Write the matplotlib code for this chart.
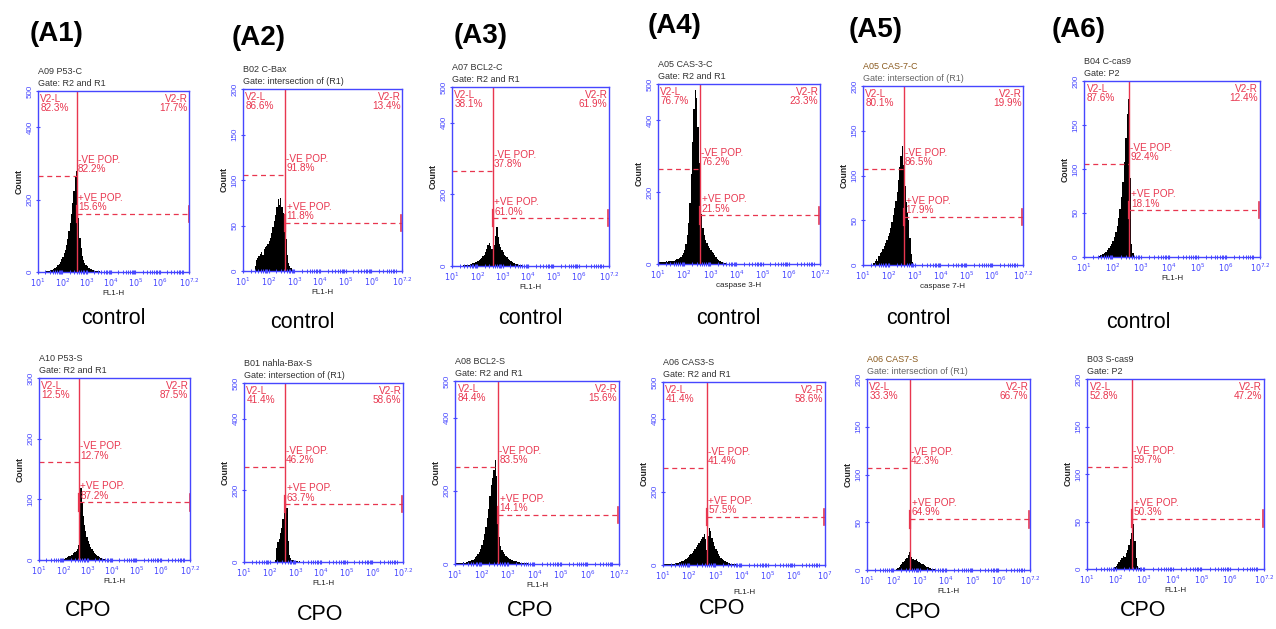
import numpy as np
import matplotlib
matplotlib.use('Agg')
import matplotlib.pyplot as plt

plt.rcParams['font.family'] = ['Liberation Sans', 'DejaVu Sans']

# ---------------- data ----------------
panel_tags = ['(A1)', '(A2)', '(A3)', '(A4)', '(A5)', '(A6)']
bin_width = 0.05  # decades per histogram bin

# control row (log10 start of first bin, counts per bin)
p53_c_start = 1.30
p53_c_counts = [2, 3, 3, 4, 5, 6, 8, 10, 12, 15, 18, 22, 28, 35, 42, 52, 62, 75, 92, 112,
                135, 160, 190, 225, 262, 280, 205, 150, 95, 65, 45, 32, 25, 20, 16, 12, 10,
                8, 6, 5, 4, 3, 3, 2, 2, 1, 1]
bax_c_start = 1.45
bax_c_counts = [6, 12, 14, 17, 19, 21, 18, 24, 26, 28, 30, 33, 36, 42, 48, 55, 62, 70, 79,
                72, 80, 70, 64, 52, 35, 18, 9, 5, 3, 1]
bcl2_c_start = 1.40
bcl2_c_counts = [1, 2, 2, 3, 3, 4, 5, 6, 7, 8, 10, 12, 14, 16, 19, 22, 27, 32, 38, 48, 58,
                 65, 55, 48, 30, 60, 85, 108, 80, 62, 52, 45, 38, 32, 28, 24, 20, 17, 14, 11,
                 9, 7, 6, 5, 4, 3, 2, 1]
cas3_c_start = 1.00
cas3_c_counts = [4, 5, 5, 6, 5, 6, 7, 6, 7, 8, 7, 8, 9, 11, 13, 15, 17, 20, 25, 30, 38, 55,
                 80, 115, 170, 250, 340, 430, 484, 460, 380, 280, 190, 140, 100, 80, 68, 58,
                 50, 44, 38, 34, 30, 24, 19, 14, 11, 8, 6, 5, 4, 3, 2]
cas7_c_start = 1.40
cas7_c_counts = [2, 4, 7, 5, 10, 13, 15, 18, 21, 25, 28, 32, 36, 41, 48, 56, 64, 72, 82, 95,
                 110, 122, 133, 112, 88, 70, 58, 50, 30, 12, 3]
cas9_c_start = 1.50
cas9_c_counts = [1, 2, 2, 3, 4, 6, 8, 10, 12, 15, 18, 23, 28, 35, 44, 55, 68, 85, 108, 135,
                 162, 180, 90, 15, 4, 1]

# CPO row
p53_s_start = 1.90
p53_s_counts = [1, 2, 2, 3, 4, 5, 6, 7, 8, 9, 11, 13, 15, 18, 25, 40, 118, 95, 72, 58, 47,
                38, 32, 27, 22, 18, 15, 12, 10, 8, 6, 5, 4, 3, 2, 2, 1]
bax_s_start = 2.20
bax_s_counts = [5, 40, 55, 65, 80, 95, 120, 145, 190, 150, 60, 20, 10, 6, 5, 3, 2, 2, 1, 2,
                1, 1]
bcl2_s_start = 1.00
bcl2_s_counts = [3, 3, 4, 3, 4, 4, 5, 4, 5, 6, 7, 8, 10, 12, 15, 18, 23, 28, 34, 42, 52, 65,
                 82, 100, 125, 150, 185, 215, 235, 258, 285, 240, 140, 75, 48, 38, 32, 26,
                 22, 19, 16, 14, 12, 10, 9, 8, 7, 6, 5, 4, 4, 3, 3, 2, 2, 1]
cas3_s_start = 1.00
cas3_s_counts = [2, 2, 2, 3, 2, 3, 3, 4, 4, 5, 5, 6, 7, 8, 10, 12, 14, 17, 20, 23, 26, 30,
                 34, 38, 43, 49, 55, 60, 65, 70, 76, 85, 70, 40, 80, 100, 92, 75, 62, 52, 44,
                 37, 30, 25, 20, 16, 13, 10, 8, 7, 5, 4, 3, 3, 2, 2, 1]
cas7_s_start = 2.10
cas7_s_counts = [1, 2, 3, 5, 6, 8, 9, 11, 13, 16, 19, 14, 11, 12, 10, 11, 9, 8, 7, 6, 6, 5,
                 4, 3, 3, 2, 2, 1, 1, 1]
cas9_s_start = 1.90
cas9_s_counts = [1, 2, 3, 5, 7, 9, 12, 14, 13, 17, 20, 25, 32, 38, 47, 30, 12, 3, 1]

hist_starts = [p53_c_start, bax_c_start, bcl2_c_start, cas3_c_start, cas7_c_start, cas9_c_start,
               p53_s_start, bax_s_start, bcl2_s_start, cas3_s_start, cas7_s_start, cas9_s_start]
hist_counts = [p53_c_counts, bax_c_counts, bcl2_c_counts, cas3_c_counts, cas7_c_counts, cas9_c_counts,
               p53_s_counts, bax_s_counts, bcl2_s_counts, cas3_s_counts, cas7_s_counts, cas9_s_counts]

sample_names = ['A09 P53-C', 'B02 C-Bax', 'A07 BCL2-C', 'A05 CAS-3-C', 'A05 CAS-7-C', 'B04 C-cas9',
                'A10 P53-S', 'B01 nahla-Bax-S', 'A08 BCL2-S', 'A06 CAS3-S', 'A06 CAS7-S', 'B03 S-cas9']
gate_names = ['Gate: R2 and R1', 'Gate: intersection of (R1)', 'Gate: R2 and R1', 'Gate: R2 and R1',
              'Gate: intersection of (R1)', 'Gate: P2',
              'Gate: R2 and R1', 'Gate: intersection of (R1)', 'Gate: R2 and R1', 'Gate: R2 and R1',
              'Gate: intersection of (R1)', 'Gate: P2']
v2l_pct = ['82.3%', '86.6%', '38.1%', '76.7%', '80.1%', '87.6%',
           '12.5%', '41.4%', '84.4%', '41.4%', '33.3%', '52.8%']
v2r_pct = ['17.7%', '13.4%', '61.9%', '23.3%', '19.9%', '12.4%',
           '87.5%', '58.6%', '15.6%', '58.6%', '66.7%', '47.2%']
neg_pct = ['82.2%', '91.8%', '37.8%', '76.2%', '86.5%', '92.4%',
           '12.7%', '46.2%', '83.5%', '41.4%', '42.3%', '59.7%']
pos_pct = ['15.6%', '11.8%', '61.0%', '21.5%', '17.9%', '18.1%',
           '87.2%', '63.7%', '14.1%', '57.5%', '64.9%', '50.3%']
gate_x = [2.60, 2.64, 2.61, 2.61, 2.59, 2.59, 2.64, 2.60, 2.63, 2.68, 2.64, 2.58]
neg_level = [265, 106, 266, 265, 107, 106, 161, 265, 265, 266, 107, 107]
pos_level = [160, 53, 133, 135, 54, 53, 95, 161, 134, 131, 53, 53]
y_max = [500, 200, 500, 500, 200, 200, 300, 500, 500, 500, 200, 200]
x_names = ['FL1-H', 'FL1-H', 'FL1-H', 'caspase 3-H', 'caspase 7-H', 'FL1-H',
           'FL1-H', 'FL1-H', 'FL1-H', 'FL1-H', 'FL1-H', 'FL1-H']
last_x_label = ['7.2'] * 9 + ['7'] + ['7.2'] * 2
captions = ['control'] * 6 + ['CPO'] * 6

# ---------------- layout (pixels) ----------------
W, H = 1276, 629
boxes = [(38, 189, 91, 272), (243, 402, 89, 271), (452, 609, 87, 266),
         (658, 820, 84, 264), (863, 1023, 86, 265), (1084, 1260, 81, 257),
         (39, 190, 378, 560), (244, 403, 383, 562), (455, 619, 381, 564),
         (663, 825, 382, 565), (867, 1030, 379, 570), (1087, 1264, 379, 569)]
tag_pos = [(57, 34), (259, 38), (481, 36), (675, 26), (876, 30), (1079, 30)]
caption_pos = [(113, 318), (302, 322), (530, 318), (728, 318), (918, 318), (1138, 323),
               (88, 610), (320, 614), (530, 610), (722, 608), (918, 612), (1143, 610)]
xlabel_pad = [1, 1, 1, 1, 1, 1, 1, 1, 1, 5, 1, 1]

RED = '#e8364f'
BLUE = '#4646ff'

fig = plt.figure(figsize=(W / 100, H / 100), dpi=100)
fig.patch.set_facecolor('white')

major_x = [1, 2, 3, 4, 5, 6]
minor_x = [d + np.log10(k) for d in range(1, 8) for k in range(2, 10) if d + np.log10(k) < 7.2]

for i in range(12):
    x0, x1, y0, y1 = boxes[i]
    ax = fig.add_axes([x0 / W, 1 - y1 / H, (x1 - x0) / W, (y1 - y0) / H])
    ym = y_max[i]
    counts = np.array(hist_counts[i], dtype=float)
    edges = hist_starts[i] + bin_width * np.arange(len(counts) + 1)
    ax.stairs(counts, edges, fill=True, color='black', lw=0)
    ax.set_xlim(1, 7.2)
    ax.set_ylim(0, ym)

    for s in ax.spines.values():
        s.set_color(BLUE)
        s.set_linewidth(1.0)

    g = gate_x[i]
    ax.axvline(g, color=RED, lw=1.0)
    ax.plot([1, g], [neg_level[i], neg_level[i]], color=RED, lw=0.9, ls=(0, (4, 3)))
    ax.plot([g, 7.2], [pos_level[i], pos_level[i]], color=RED, lw=0.9, ls=(0, (4, 3)))
    ax.plot([7.18, 7.18], [pos_level[i] - 0.045 * ym, pos_level[i] + 0.045 * ym], color=RED, lw=1.2)
    ax.plot([g, g], [pos_level[i] - 0.045 * ym, pos_level[i] + 0.045 * ym], color=RED, lw=1.6)

    tfs = 7.2
    ax.text(0.015, 0.985, 'V2-L\n' + v2l_pct[i], transform=ax.transAxes, ha='left', va='top',
            color=RED, fontsize=tfs, linespacing=0.9)
    ax.text(0.99, 0.985, 'V2-R\n' + v2r_pct[i], transform=ax.transAxes, ha='right', va='top',
            color=RED, fontsize=tfs, linespacing=0.9)
    ax.text(g + 0.04, neg_level[i] + 0.01 * ym, '-VE POP.\n' + neg_pct[i], ha='left', va='bottom',
            color=RED, fontsize=tfs, linespacing=0.9)
    ax.text(g + 0.06, pos_level[i] + 0.01 * ym, '+VE POP.\n' + pos_pct[i], ha='left', va='bottom',
            color=RED, fontsize=tfs, linespacing=0.9)

    # ticks
    ax.set_xticks(major_x + [7.2])
    ax.set_xticklabels([r'$10^{%d}$' % d for d in major_x] + [r'$10^{%s}$' % last_x_label[i]])
    ax.set_xticks(minor_x, minor=True)
    if ym == 500:
        yt = [0, 200, 400, 500]
    elif ym == 300:
        yt = [0, 100, 200, 300]
    else:
        yt = [0, 50, 100, 150, 200]
    ax.set_yticks(yt)
    ax.set_yticklabels([str(v) for v in yt], rotation=90, va='center')
    ax.tick_params(axis='both', which='major', colors=BLUE, labelsize=5.8, length=3.5,
                   width=0.8, direction='inout', pad=1.5)
    ax.tick_params(axis='x', which='minor', colors=BLUE, length=3, width=0.7, direction='inout')

    ax.set_xlabel(x_names[i], fontsize=5.8, color='#222222', labelpad=xlabel_pad[i])
    ax.set_ylabel('Count', fontsize=6.2, color='#222222', labelpad=2, fontweight='bold')

    name_color = '#8a5a1e' if 'CAS-7' in sample_names[i] or 'CAS7' in sample_names[i] else '#333333'
    gate_color = '#666666' if name_color != '#333333' else '#333333'
    ax.annotate(sample_names[i], xy=(0, 1), xycoords='axes fraction', xytext=(0, 11),
                textcoords='offset points', fontsize=6.5, color=name_color, ha='left', va='bottom')
    ax.annotate(gate_names[i], xy=(0, 1), xycoords='axes fraction', xytext=(0, 2),
                textcoords='offset points', fontsize=6.5, color=gate_color, ha='left', va='bottom')

    cx, cy = caption_pos[i]
    fig.text(cx / W, 1 - cy / H, captions[i], ha='center', va='center', fontsize=15.5,
             color='black')

for j, tag in enumerate(panel_tags):
    tx, ty = tag_pos[j]
    fig.text(tx / W, 1 - ty / H, tag, ha='center', va='center', fontsize=20,
             fontweight='bold', color='black')

fig.savefig('out.png', dpi=100, facecolor='white')
